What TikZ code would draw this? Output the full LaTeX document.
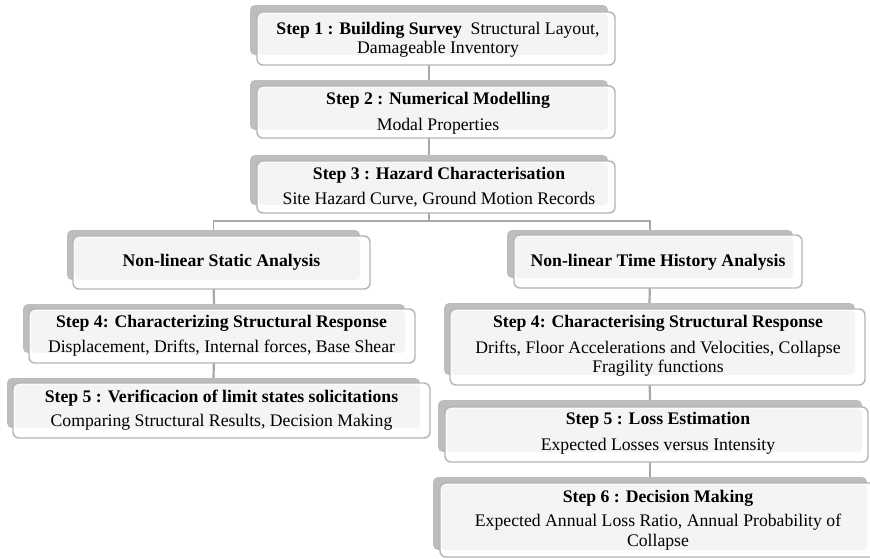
\documentclass[tikz,border=0pt]{standalone}
\usepackage{fontspec}
\setmainfont{Liberation Serif}
\usetikzlibrary{backgrounds,calc}
\definecolor{backgray}{HTML}{BDBDBD}
\definecolor{edgegray}{HTML}{B4B4B4}
\definecolor{innerfill}{HTML}{F4F4F4}
\definecolor{linkgray}{HTML}{A8A8A8}
\tikzset{
  backbox/.style={fill=backgray, draw=none, rounded corners=5pt, inner sep=0pt, outer sep=0pt, anchor=north west},
  frontbox/.style={fill=white, draw=edgegray, line width=1.4pt, rounded corners=6pt},
  shadefill/.style={fill=innerfill, rounded corners=4pt},
  steptext/.style={align=center, inner sep=0pt, font=\fontsize{17.7}{19.5}\selectfont},
  link/.style={draw=linkgray, line width=2.2pt},
  splitlink/.style={draw=linkgray, line width=1.7pt},
}
\newcommand\mkstep[9]{%
  \node[backbox, minimum width={(#4-#2)*1pt}, minimum height={(#5-#3)*1pt}] (#1) at (#2,#3) {};
  \path[frontbox] (#6,#7) rectangle (#8,#9);
  \path[shadefill] ({#6+1.5},{#7+1.5}) rectangle (#4,#5);
}
\begin{document}
\begin{tikzpicture}[x=1pt,y=-1pt]
\useasboundingbox (0,0) rectangle (870,558);
% boxes
\mkstep{b1}{250}{5}{608}{55}{257}{12}{615}{65}
\mkstep{b2}{250}{80}{608}{130}{257}{86}{615}{138}
\mkstep{b3}{250}{155}{608}{205}{257}{161}{615}{213}
\mkstep{sta}{67}{230}{360}{280}{73}{236}{370}{289}
\mkstep{l4}{23}{304}{405}{353}{29}{309}{415}{363}
\mkstep{l5}{7}{378}{420}{428}{13}{383}{430}{438}
\mkstep{nlt}{507}{230}{793}{278}{514}{235}{802}{288}
\mkstep{r4}{444}{303}{855}{375}{450}{309}{865}{385}
\mkstep{r5}{438}{400}{862}{452}{445}{407}{868}{462}
\mkstep{r6}{433}{477}{867}{550}{440}{483}{877}{557}
% connectors between the back boxes, behind the boxes
\begin{scope}[on background layer]
  \fill[white] (0,0) rectangle (870,558);
  \draw[link] (b1.south) -- (b2.north);
  \draw[link] (b2.south) -- (b3.north);
  \coordinate (split) at ($(b3.south)+(0,16)$);
  \draw[link] (b3.south) -- (split);
  \draw[splitlink] (split) -| (sta.north);
  \draw[splitlink] (split) -| (nlt.north);
  \draw[link] (sta.south) -- (l4.north);
  \draw[link] (l4.south) -- (l5.north);
  \draw[link] (nlt.south) -- (r4.north);
  \draw[link] (r4.south) -- (r5.north);
  \draw[link] (r5.south) -- (r6.north);
\end{scope}
% texts
\node[steptext] (t1) at (438,40) {\textbf{Step 1 : Building Survey}\ \ Structural Layout,\\Damageable Inventory};
\node[steptext] (t2) at (438,113) {\textbf{Step 2 : Numerical Modelling}\\[6pt]Modal Properties};
\node[steptext] (t3) at (439,187) {\textbf{Step 3 : Hazard Characterisation}\\[5pt]Site Hazard Curve, Ground Motion Records};
\node[steptext] (tsta) at (221.5,262) {\textbf{Non-linear Static Analysis}};
\node[steptext] (tl4) at (221.5,335.5) {\textbf{Step 4: Characterizing Structural Response}\\[5pt]Displacement, Drifts, Internal forces, Base Shear};
\node[steptext] (tl5) at (221.5,410) {\textbf{Step 5 : Verificacion of limit states solicitations}\\[5pt]Comparing Structural Results, Decision Making};
\node[steptext] (tnlt) at (658,262) {\textbf{Non-linear Time History Analysis}};
\node[steptext] (tr4) at (658,346) {\textbf{Step 4: Characterising Structural Response}\\[6pt]Drifts, Floor Accelerations and Velocities, Collapse\\Fragility functions};
\node[steptext] (tr5) at (658,433.5) {\textbf{Step 5 : Loss Estimation}\\[7pt]Expected Losses versus Intensity};
\node[steptext] (tr6) at (658,520) {\textbf{Step 6 : Decision Making}\\[5pt]Expected Annual Loss Ratio, Annual Probability of\\Collapse};
\end{tikzpicture}
\end{document}
